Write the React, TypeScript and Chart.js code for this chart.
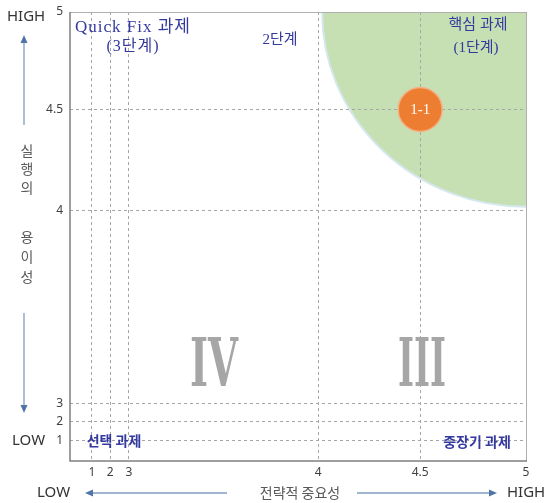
import React, { useEffect, useRef } from 'react';
import { Chart, registerables, LinearScale } from 'chart.js';

// ---- data ----
const X_TICKS = [1, 2, 3, 4, 4.5, 5];
const Y_TICKS = [1, 2, 3, 4, 4.5, 5];
const POINT_LABELS = ['1-1'];
const POINT_X = [4.5];
const POINT_Y = [4.5];
const X_TITLE = '전략적 중요성';
const Y_TITLE = ['실', '행', '의', '', '용', '이', '성'];
const GREEN_FROM_X = [4.02];
const GREEN_FROM_Y = [4.02];

// ---- non-linear axis breaks (value -> fraction of axis length) ----
const X_BREAK_VALUES = [0, 1, 2, 3, 4, 4.5, 5];
const X_BREAK_FRACS = [0, 0.048, 0.088, 0.129, 0.544, 0.768, 1];
const Y_BREAK_VALUES = [0, 1, 2, 3, 4, 4.5, 5];
const Y_BREAK_FRACS = [0, 0.045, 0.087, 0.127, 0.557, 0.783, 1];

function toFrac(v: number, vals: number[], fracs: number[]) {
  if (v <= vals[0]) return fracs[0];
  for (let i = 0; i < vals.length - 1; i++) {
    if (v <= vals[i + 1]) {
      return fracs[i] + ((v - vals[i]) / (vals[i + 1] - vals[i])) * (fracs[i + 1] - fracs[i]);
    }
  }
  return fracs[fracs.length - 1];
}
function fromFrac(f: number, vals: number[], fracs: number[]) {
  if (f <= fracs[0]) return vals[0];
  for (let i = 0; i < fracs.length - 1; i++) {
    if (f <= fracs[i + 1]) {
      return vals[i] + ((f - fracs[i]) / (fracs[i + 1] - fracs[i])) * (vals[i + 1] - vals[i]);
    }
  }
  return vals[vals.length - 1];
}

class PiecewiseScale extends (LinearScale as any) {
  static id = 'piecewise';
  static defaults = { ...(LinearScale as any).defaults };
  getPixelForValue(value: any) {
    if (value === null || value === undefined || isNaN(value)) return NaN;
    const isX = (this as any).axis === 'x';
    const f = toFrac(value, isX ? X_BREAK_VALUES : Y_BREAK_VALUES, isX ? X_BREAK_FRACS : Y_BREAK_FRACS);
    return (this as any).getPixelForDecimal(f);
  }
  getValueForPixel(pixel: number) {
    const isX = (this as any).axis === 'x';
    const d = (this as any).getDecimalForPixel(pixel);
    return fromFrac(d, isX ? X_BREAK_VALUES : Y_BREAK_VALUES, isX ? X_BREAK_FRACS : Y_BREAK_FRACS);
  }
}

Chart.register(...registerables, PiecewiseScale as any);

const KR = '"Noto Sans CJK KR", "Noto Sans", sans-serif';
const SANS = '"Noto Sans", "Noto Sans CJK KR", sans-serif';
const SERIF = '"Liberation Serif", "Noto Sans CJK KR", serif';
const BLUE = '#34399e';
const GRID = '#a6a6a6';

function arrow(ctx: CanvasRenderingContext2D, x1: number, y1: number, x2: number, y2: number) {
  const ang = Math.atan2(y2 - y1, x2 - x1);
  ctx.save();
  ctx.strokeStyle = '#7f9cc0';
  ctx.lineWidth = 1.3;
  ctx.beginPath();
  ctx.moveTo(x1, y1);
  ctx.lineTo(x2 - Math.cos(ang) * 4, y2 - Math.sin(ang) * 4);
  ctx.stroke();
  ctx.fillStyle = '#4f75a8';
  ctx.translate(x2, y2);
  ctx.rotate(ang);
  ctx.beginPath();
  ctx.moveTo(0, 0);
  ctx.lineTo(-8, -3.5);
  ctx.lineTo(-8, 3.5);
  ctx.closePath();
  ctx.fill();
  ctx.restore();
}

const decorPlugin = {
  id: 'decor',
  beforeDraw(chart: any) {
    const { ctx, chartArea, scales } = chart;
    const xs = scales.x, ys = scales.y;
    const cx = xs.getPixelForValue(5), cy = ys.getPixelForValue(5);
    const rx = cx - xs.getPixelForValue(GREEN_FROM_X[0]);
    const ry = ys.getPixelForValue(GREEN_FROM_Y[0]) - cy;
    ctx.save();
    ctx.beginPath();
    ctx.rect(chartArea.left, chartArea.top, chartArea.right - chartArea.left, chartArea.bottom - chartArea.top);
    ctx.clip();
    ctx.beginPath();
    ctx.ellipse(cx, cy, rx, ry, 0, 0, Math.PI * 2);
    ctx.fillStyle = '#c6e0b4';
    ctx.fill();
    ctx.strokeStyle = '#d5e7ef';
    ctx.lineWidth = 2;
    ctx.stroke();
    ctx.restore();
  },
  afterDraw(chart: any) {
    const { ctx, chartArea } = chart;
    const { left, right, top, bottom } = chartArea;
    ctx.save();
    // plot frame
    ctx.lineWidth = 1;
    ctx.strokeStyle = '#b0b0b0';
    ctx.beginPath();
    ctx.moveTo(left, top + 0.5); ctx.lineTo(right + 0.5, top + 0.5); ctx.lineTo(right + 0.5, bottom);
    ctx.stroke();
    ctx.strokeStyle = '#7f7f7f';
    ctx.lineWidth = 1.5;
    ctx.beginPath();
    ctx.moveTo(left, top); ctx.lineTo(left, bottom); ctx.lineTo(right + 1, bottom);
    ctx.stroke();

    // point labels
    const meta = chart.getDatasetMeta(0);
    ctx.fillStyle = '#ffffff';
    ctx.font = '15px "Liberation Serif", serif';
    ctx.textAlign = 'center';
    ctx.textBaseline = 'middle';
    meta.data.forEach((el: any, i: number) => {
      ctx.fillText(POINT_LABELS[i], el.x, el.y + 1);
    });

    // roman numerals
    const roman = (txt: string, cxp: number, base: number, w: number) => {
      ctx.save();
      ctx.font = 'bold 68px "DejaVu Serif", serif';
      ctx.fillStyle = '#a6a6a6';
      ctx.textAlign = 'center';
      ctx.textBaseline = 'alphabetic';
      const m = ctx.measureText(txt).width;
      ctx.translate(cxp, base);
      ctx.scale(w / m, 1);
      ctx.fillText(txt, 0, 0);
      ctx.restore();
    };
    roman('IV', 214, 386, 48);
    roman('III', 422, 386, 48);

    // blue quadrant labels
    ctx.fillStyle = BLUE;
    ctx.textBaseline = 'middle';
    ctx.textAlign = 'left';
    ctx.font = `17px ${SERIF}`;
    (ctx as any).letterSpacing = '1px';
    ctx.fillText('Quick Fix 과제', 75, 28);
    ctx.textAlign = 'center';
    ctx.font = `16px ${SERIF}`;
    ctx.fillText('(3단계)', 133, 47);
    (ctx as any).letterSpacing = '0px';
    ctx.font = `15px ${SERIF}`;
    ctx.fillText('2단계', 280, 40);
    ctx.fillText('핵심 과제', 478, 25);
    ctx.fillText('(1단계)', 476, 48);
    ctx.font = `bold 14px ${KR}`;
    ctx.fillText('선택 과제', 114, 441);
    ctx.fillText('중장기 과제', 477, 442);

    // outside labels
    ctx.fillStyle = '#333333';
    ctx.font = `15px ${SANS}`;
    ctx.textAlign = 'left';
    ctx.fillText('HIGH', 7, 17);
    ctx.fillText('LOW', 12, 441);
    ctx.fillText('LOW', 37, 493);
    ctx.fillText('HIGH', 507, 493);

    ctx.fillStyle = '#595959';
    ctx.font = `14px ${KR}`;
    ctx.textAlign = 'center';
    ctx.fillText(X_TITLE, 300, 493);
    const ty = [151, 169, 188, 212, 237, 257, 277];
    Y_TITLE.forEach((c, i) => { if (c) ctx.fillText(c, 27, ty[i]); });

    arrow(ctx, 24, 125, 24, 35);
    arrow(ctx, 24, 313, 24, 413);
    arrow(ctx, 227, 493, 85, 493);
    arrow(ctx, 357, 493, 497, 493);
    ctx.restore();
  },
};

export default function App() {
  const ref = useRef<HTMLCanvasElement>(null);
  useEffect(() => {
    if (!ref.current) return;
    const tickFont = { size: 12, family: SANS };
    const chart = new Chart(ref.current, {
      type: 'scatter',
      data: {
        datasets: [
          {
            data: POINT_X.map((x, i) => ({ x, y: POINT_Y[i] })),
            pointRadius: 22,
            pointHoverRadius: 22,
            backgroundColor: '#ed7d31',
            borderColor: '#f4b183',
            borderWidth: 1.5,
          },
        ],
      },
      options: {
        responsive: false,
        animation: false,
        events: [],
        layout: { autoPadding: false, padding: { top: 12, right: 23, left: 0, bottom: 0 } },
        plugins: { legend: { display: false }, tooltip: { enabled: false } },
        scales: {
          x: {
            type: 'piecewise' as any,
            min: 0,
            max: 5,
            afterBuildTicks: (s: any) => { s.ticks = X_TICKS.map((v) => ({ value: v })); },
            afterFit: (s: any) => { s.height = 42; s.paddingLeft = 0; s.paddingRight = 0; s.paddingTop = 0; s.paddingBottom = 0; },
            ticks: { autoSkip: false, maxRotation: 0, padding: 4, color: '#404040', font: tickFont, callback: (v: any) => String(v) },
            grid: { color: GRID, lineWidth: 1, drawTicks: false },
            border: { display: false, dash: [3, 3] },
          },
          y: {
            type: 'piecewise' as any,
            min: 0,
            max: 5,
            afterBuildTicks: (s: any) => { s.ticks = Y_TICKS.map((v) => ({ value: v })); },
            afterFit: (s: any) => { s.width = 70; s.paddingLeft = 0; s.paddingRight = 0; s.paddingTop = 0; s.paddingBottom = 0; },
            ticks: { autoSkip: false, padding: 7, color: '#404040', font: tickFont, callback: (v: any) => String(v) },
            grid: { color: GRID, lineWidth: 1, drawTicks: false },
            border: { display: false, dash: [3, 3] },
          },
        },
      } as any,
      plugins: [decorPlugin],
    });
    return () => chart.destroy();
  }, []);
  return (
    <div style={{ position: 'absolute', left: 0, top: 0, width: 549, height: 503, background: '#fff' }}>
      <canvas ref={ref} width={549} height={503} />
    </div>
  );
}
